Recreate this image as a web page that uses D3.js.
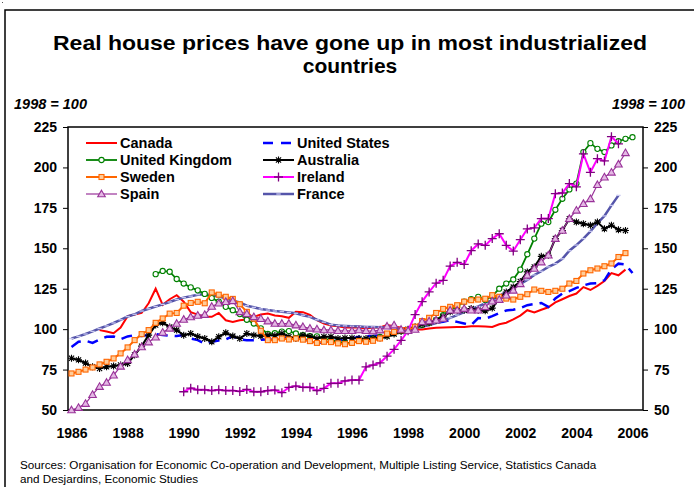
<!DOCTYPE html>
<html lang="en">
<head>
<meta charset="UTF-8">
<title>Real house prices</title>
<style>
  body { margin: 0; background: #fff; }
  svg { display: block; font-family: "Liberation Sans", Arial, sans-serif; }
  .tick-label { font-size: 14px; font-weight: bold; }
  .legend text { font-size: 14.5px; font-weight: bold; }
</style>
</head>
<body>
<div id="chart"></div>
<script src="https://d3js.org/d3.v7.min.js"></script>
<script>
// quarterly index, 1998 = 100. each series has its own first year (Q1)
const years = [1986, 1988, 1990, 1992, 1994, 1996, 1998, 2000, 2002, 2004, 2006];
const yTicks = [50, 75, 100, 125, 150, 175, 200, 225];

const canadaStart = 1987;
const canada = [99.4, 98.5, 97.5, 101, 108, 109, 110, 116, 125, 115, 118.5, 121, 117, 110.5, 109, 107.6,
  107.6, 110, 105.5, 104.5, 105.5, 106, 107.6, 109, 109.6, 108.5, 108, 107, 110.7, 110.5, 108.8, 105.5,
  103.5, 102.3, 101.8, 101, 101, 101, 100.4, 101, 101, 102.5, 101.8, 100.8, 100.4, 99.8, 99.8, 100.4,
  100.8, 101, 101.2, 101.4, 101.4, 101.8, 101.8, 101.6, 101.4, 103, 104, 106, 108.4, 111.7, 110.3, 112,
  113.5, 116.5, 118.5, 120.5, 122, 126, 124.2, 126.8, 129.8, 134.7, 133.3, 136.8];

const usStart = 1986;
const us = [89, 92.2, 92.8, 91.5, 93.6, 95.3, 95.5, 93.8, 95.5, 96.3, 95.7, 96.3, 96.9, 96.3, 96, 95.7,
  96.3, 94.2, 93.2, 91.1, 92.2, 93, 93.6, 95.7, 93.6, 93.2, 93.2, 93.4, 93.6, 93.6, 94, 94.6, 95.3, 94,
  92.5, 91.5, 91.8, 92.5, 93, 93.8, 94.2, 95.3, 95.5, 95.7, 96.3, 97.3, 98.3, 99, 99.4, 100.5, 101.5,
  103, 104, 104.5, 105.5, 104.5, 103.5, 102.5, 106.8, 106.5, 108, 110, 111.5, 112, 113, 114.8, 115.5,
  116.2, 113.8, 119, 122, 123.5, 125.5, 127, 128.2, 128.5, 130.2, 137, 140.5, 140, 134.7];

const ukStart = 1989;
const uk = [134, 136, 135.5, 131, 128.2, 125.8, 124, 121.8, 119.3, 117, 113.8, 111.7, 109.3, 105.8, 103.5,
  100.5, 97, 97.5, 98.5, 98.8, 97.3, 96.3, 95.7, 95.5, 94.2, 93.2, 92.2, 91.5, 91.5, 92.8, 93.2, 94.2,
  95.2, 96.3, 97.5, 99, 99.5, 101, 102.5, 104, 105.5, 108.6, 112, 114, 117, 118.5, 120, 118, 120.4, 125,
  128.2, 130.7, 136.8, 146.3, 156, 165.2, 166.2, 173.8, 180.6, 186.4, 190, 209.5, 215, 211.5, 209.5,
  213.6, 216.2, 217.7, 218.7];

const australiaStart = 1986;
const australia = [82, 81, 79, 76.7, 75.7, 76.7, 77.2, 77.8, 78.8, 84, 89.5, 96.3, 102.5, 104, 101.4, 99.4,
  96.3, 97.3, 95.5, 94.2, 92.2, 95.3, 97.7, 95.7, 94.2, 97.3, 96.3, 95.7, 96.3, 96, 97.3, 95.3, 94.2,
  96.3, 95.5, 94.2, 95.3, 95.3, 94.2, 94.5, 94.5, 94.2, 94.2, 94.2, 94.5, 95.5, 97, 98.5, 100, 101.5,
  103, 104, 105.5, 107.6, 110.7, 111.7, 111.7, 112.7, 111.7, 111.3, 113, 119, 123, 126, 129.5, 135.4,
  138.5, 145, 145.7, 156, 161, 168.3, 166.2, 165.2, 164.2, 166.2, 162.1, 164.2, 161.5, 161];

const swedenStart = 1986;
const sweden = [72.6, 73.6, 75, 76.3, 78.2, 79.8, 81.9, 85, 88.7, 93.2, 96.9, 99.4, 103.9, 106.6, 109.6, 110,
  114.5, 116.2, 116.9, 116, 122.7, 121.3, 120, 118.7, 115.4, 110.7, 106.5, 99, 93.2, 93.2, 94.2, 93.6,
  94.2, 93.5, 92.6, 91.5, 92.2, 92, 91.2, 90.7, 91.5, 92.6, 92.2, 92.8, 94.2, 97.3, 98.3, 99.4, 99.4,
  101.5, 105, 107, 110, 112.5, 113.8, 114.8, 117, 117.9, 118.3, 118.8, 121, 120, 118.9, 118.3, 120,
  121.6, 124.5, 123.7, 123, 123.7, 125, 128.2, 129.8, 134.4, 136.4, 137.5, 138.9, 140.6, 144.6, 147];

const irelandStart = 1990;
const ireland = [61.3, 63.5, 62.5, 62.5, 62, 62.5, 62, 62, 61.5, 62.7, 61.3, 61.3, 62, 62.3, 60.7, 64, 64.8,
  64, 64, 62, 63.4, 66.5, 66.5, 68, 68.5, 68.5, 76.7, 77.8, 79.2, 83.3, 87.5, 93, 99, 109, 117, 123,
  128.4, 130.2, 139, 141.3, 140, 148.5, 152.7, 151.8, 156, 159, 151.8, 148.3, 155.3, 162, 162.6, 168.4,
  168.4, 183.8, 184.2, 190, 188, 208.4, 197, 205.4, 204, 219, 214.6];

const spainStart = 1986;
const spain = [50, 51.5, 54, 59.5, 64.5, 67, 71.5, 77, 81, 84.5, 89, 92, 95, 98, 100.5, 103.5, 106, 107.5,
  108.5, 109, 114, 116, 117, 117.5, 110.7, 109.5, 107.6, 106.5, 105, 103.5, 103.5, 103.5, 102.5, 101.5,
  100.5, 100, 99.5, 99.5, 99, 99, 99, 99.5, 99, 98.8, 99.4, 101.8, 102.5, 99.8, 99, 99.8, 104.5, 105,
  105.5, 106.6, 111.7, 111.7, 112.7, 111.7, 111.7, 113.8, 117.3, 118.3, 121, 124, 128, 133.3, 137.5,
  141.5, 145.7, 156, 161, 168.3, 173.5, 177.6, 180.6, 189.3, 194, 197, 202, 209];

const franceStart = 1986;
const france = [94.2, 95.5, 97, 98.6, 100.4, 102, 103.8, 105.8, 107.8, 109.2, 111.2, 112.6, 114, 115.3,
  116.8, 118.3, 119.5, 120.4, 121.3, 121.6, 121, 120.2, 119, 117.6, 116.5, 114.5, 113.5, 112.5, 111.8,
  111.2, 110.8, 110.3, 109.8, 108.6, 107.6, 105.8, 104.3, 102.8, 102.2, 102, 101.8, 101.6, 101.4, 101.4,
  101.2, 100.8, 100.4, 100, 99.8, 100.5, 101.5, 102.5, 103.8, 105.3, 107, 108.7, 110.5, 112.3, 114, 116,
  118, 120.5, 123, 125.5, 128, 130.5, 133.5, 135.8, 138.5, 140.5, 143.5, 148.5, 152, 156, 160.5, 165.5,
  170, 176.5, 182.7];

const series = [
  { name: "Canada", start: canadaStart, values: canada, color: "#ff0000", width: 2, marker: null },
  { name: "United States", start: usStart, values: us, color: "#0000ff", width: 2.5, dash: "11,7", marker: null },
  { name: "France", start: franceStart, values: france, color: "#5555aa", width: 2.5, marker: "dash", markerColor: "#c8c8f0" },
  { name: "United Kingdom", start: ukStart, values: uk, color: "#008000", width: 1.8, marker: "circle" },
  { name: "Australia", start: australiaStart, values: australia, color: "#000000", width: 2, marker: "star" },
  { name: "Sweden", start: swedenStart, values: sweden, color: "#ff6600", width: 2, marker: "square" },
  { name: "Ireland", start: irelandStart, values: ireland, color: "#ff00ff", width: 2, marker: "plus", markerColor: "#800080" },
  { name: "Spain", start: spainStart, values: spain, color: "#993399", width: 1.2, marker: "triangle" }
];
const legendOrder = ["Canada", "United States", "United Kingdom", "Australia", "Sweden", "Ireland", "Spain", "France"];

const width = 694, height = 487;
const svg = d3.select("#chart").append("svg")
  .attr("width", width)
  .attr("height", height);

// outer frame
svg.append("rect")
  .attr("x", 5).attr("y", 10)
  .attr("width", 720).attr("height", 520)
  .attr("fill", "none").attr("stroke", "#000").attr("stroke-width", 1.5);
svg.append("rect").attr("x", 2).attr("y", 2).attr("width", 1).attr("height", 1).attr("fill", "#555");

svg.append("text")
  .attr("x", 350).attr("y", 50)
  .attr("text-anchor", "middle")
  .attr("textLength", 594).attr("lengthAdjust", "spacingAndGlyphs")
  .style("font-size", "21px").style("font-weight", "bold")
  .text("Real house prices have gone up in most industrialized");
svg.append("text")
  .attr("x", 350).attr("y", 73)
  .attr("text-anchor", "middle")
  .style("font-size", "21px").style("font-weight", "bold")
  .text("countries");

svg.append("text").attr("x", 14).attr("y", 109)
  .style("font-size", "14.5px").style("font-weight", "bold").style("font-style", "italic")
  .text("1998 = 100");
svg.append("text").attr("x", 685).attr("y", 109).attr("text-anchor", "end")
  .style("font-size", "14.5px").style("font-weight", "bold").style("font-style", "italic")
  .text("1998 = 100");

const plotLeft = 68, plotRight = 643, plotTop = 127, plotBottom = 410;

// x position in quarters since 1986Q1, points sit in the middle of each slot
const x = d3.scaleLinear().domain([-0.5, 81.5]).range([plotLeft, plotRight]);
const y = d3.scaleLinear().domain([50, 225]).range([plotBottom, plotTop]);
const qx = yr => (yr - 1986) * 4;

svg.append("g")
  .attr("transform", `translate(${plotLeft},0)`)
  .call(d3.axisLeft(y).tickValues(yTicks).tickSize(5).tickPadding(6))
  .call(g => g.select(".domain").remove())
  .call(g => g.selectAll("text").attr("class", "tick-label").attr("fill", "#000"));

svg.append("g")
  .attr("transform", `translate(${plotRight},0)`)
  .call(d3.axisRight(y).tickValues(yTicks).tickSize(5).tickPadding(6))
  .call(g => g.select(".domain").remove())
  .call(g => g.selectAll("text").attr("class", "tick-label").attr("fill", "#000"));

svg.append("g")
  .attr("transform", `translate(0,${plotBottom})`)
  .call(d3.axisBottom(x).tickValues(years.map(qx)).tickFormat((d, i) => years[i]).tickSize(0).tickPadding(18))
  .call(g => g.select(".domain").remove())
  .call(g => g.selectAll("text").attr("class", "tick-label").attr("fill", "#000"));

svg.append("rect")
  .attr("x", plotLeft).attr("y", plotTop)
  .attr("width", plotRight - plotLeft).attr("height", plotBottom - plotTop)
  .attr("fill", "none").attr("stroke", "#000").attr("stroke-width", 1.5);

const plot = svg.append("g");

function drawMarker(g, type, s, cx, cy) {
  if (type === "circle") {
    g.append("circle").attr("cx", cx).attr("cy", cy).attr("r", 2.6)
      .attr("fill", "#fff").attr("stroke", s.color).attr("stroke-width", 1.1);
  } else if (type === "square") {
    g.append("rect").attr("x", cx - 2.5).attr("y", cy - 2.5).attr("width", 5).attr("height", 5)
      .attr("fill", "#ffcc99").attr("stroke", s.color).attr("stroke-width", 1.1);
  } else if (type === "triangle") {
    g.append("path")
      .attr("d", `M${cx},${cy - 3.8}L${cx + 3.8},${cy + 2.8}L${cx - 3.8},${cy + 2.8}Z`)
      .attr("fill", "#e4b8e4").attr("stroke", s.color).attr("stroke-width", 1.1);
  } else if (type === "plus") {
    g.append("path")
      .attr("d", `M${cx - 4.5},${cy}H${cx + 4.5}M${cx},${cy - 4.5}V${cy + 4.5}`)
      .attr("stroke", s.markerColor).attr("stroke-width", 1.3);
  } else if (type === "star") {
    g.append("path")
      .attr("d", `M${cx - 3.5},${cy}H${cx + 3.5}M${cx},${cy - 3.5}V${cy + 3.5}M${cx - 2.6},${cy - 2.6}L${cx + 2.6},${cy + 2.6}M${cx - 2.6},${cy + 2.6}L${cx + 2.6},${cy - 2.6}`)
      .attr("stroke", "#000").attr("stroke-width", 1.1);
  } else if (type === "dash") {
    g.append("path")
      .attr("d", `M${cx - 2.2},${cy}H${cx + 2.2}`)
      .attr("stroke", s.markerColor).attr("stroke-width", 1.3);
  }
}

const line = d3.line().x(d => x(d.q)).y(d => y(d.v));

series.forEach(s => {
  const pts = s.values.map((v, i) => ({ q: qx(s.start) + i, v: v }));
  const g = plot.append("g");
  g.append("path")
    .datum(pts)
    .attr("d", line)
    .attr("fill", "none")
    .attr("stroke", s.color)
    .attr("stroke-width", s.width)
    .attr("stroke-dasharray", s.dash || null);
  if (s.marker) pts.forEach(p => drawMarker(g, s.marker, s, x(p.q), y(p.v)));
});

// legend
const legend = svg.append("g").attr("class", "legend");
legendOrder.forEach((name, i) => {
  const s = series.find(d => d.name === name);
  const lx = i % 2 === 0 ? 86 : 263;
  const ly = [143, 160, 177, 194][Math.floor(i / 2)];
  legend.append("line")
    .attr("x1", lx).attr("x2", lx + 31).attr("y1", ly).attr("y2", ly)
    .attr("stroke", s.color).attr("stroke-width", s.width)
    .attr("stroke-dasharray", s.dash ? "10,8" : null);
  if (s.marker) drawMarker(legend, s.marker, s, lx + 15.5, ly);
  legend.append("text").attr("x", lx + 34).attr("y", ly + 5).text(name);
});

svg.append("text").attr("x", 20).attr("y", 469).style("font-size", "11.7px")
  .text("Sources: Organisation for Economic Co-operation and Development, Multiple Listing Service, Statistics Canada");
svg.append("text").attr("x", 20).attr("y", 483).style("font-size", "11.7px")
  .text("and Desjardins, Economic Studies");
</script>
</body>
</html>
